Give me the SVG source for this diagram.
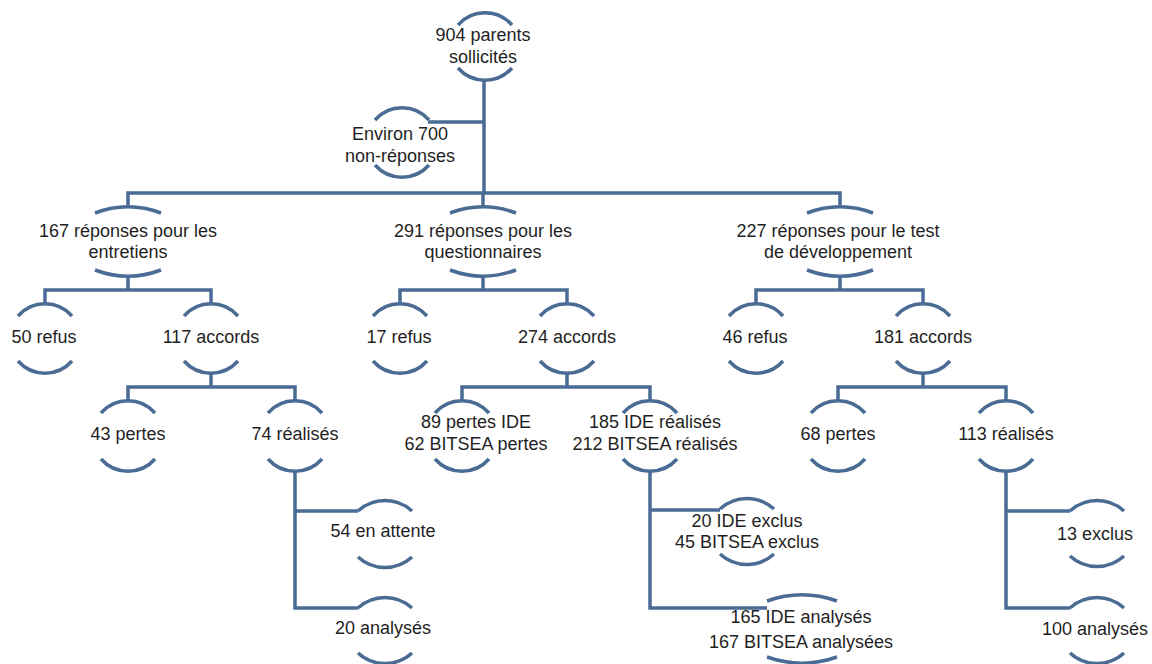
<svg xmlns="http://www.w3.org/2000/svg" width="1152" height="664" viewBox="0 0 1152 664">
<style>
.ln{fill:none;stroke:#4a6b94;stroke-width:3.5;stroke-linecap:butt;stroke-linejoin:miter}
.arc{fill:none;stroke:#4a6b94;stroke-width:3.5}
text{font-family:"Liberation Sans",Arial,sans-serif;font-size:18px;fill:#1f1f1f;text-anchor:middle}
</style>
<rect width="1152" height="664" fill="#ffffff"/>
<g id="connectors" class="ln">
<path d="M484 80 V193"/>
<path d="M428 122 H484"/>
<path d="M128 207 V193 H840 V207"/>
<path d="M483 193 V207"/>
<path d="M128 276 V290"/>
<path d="M45 304 V290 H211 V304"/>
<path d="M483 276 V290"/>
<path d="M400 304 V290 H567 V304"/>
<path d="M840 276 V290"/>
<path d="M756 304 V290 H923 V304"/>
<path d="M211 373 V387"/>
<path d="M128 401 V387 H295 V401"/>
<path d="M567 373 V387"/>
<path d="M462 401 V387 H650 V401"/>
<path d="M923 373 V387"/>
<path d="M838 401 V387 H1006 V401"/>
<path d="M295 471 V608 H358"/>
<path d="M295 511 H358"/>
<path d="M650 471 V608 H767"/>
<path d="M650 510 H720"/>
<path d="M1006 471 V608 H1070"/>
<path d="M1006 511 H1070"/>
</g>
<g id="n-parents">
<path class="arc" d="M458 25 A36 36 0 0 1 512 25"/>
<path class="arc" d="M458 68 A36 36 0 0 0 512 68"/>
<text x="483" y="41">904 parents</text>
<text x="483" y="63">sollicités</text>
</g>
<g id="n-nonrep">
<path class="arc" d="M375 120 A36 36 0 0 1 429 120"/>
<path class="arc" d="M375 165 A36 36 0 0 0 429 165"/>
<text x="400" y="140">Environ 700</text>
<text x="400" y="162">non-réponses</text>
</g>
<g id="n-entretiens">
<path class="arc" d="M95 213 A94 94 0 0 1 161 213"/>
<path class="arc" d="M95 270 A94 94 0 0 0 161 270"/>
<text x="128" y="237">167 réponses pour les</text>
<text x="128" y="258">entretiens</text>
</g>
<g id="n-questionnaires">
<path class="arc" d="M450 213 A94 94 0 0 1 516 213"/>
<path class="arc" d="M450 270 A94 94 0 0 0 516 270"/>
<text x="483" y="237">291 réponses pour les</text>
<text x="483" y="258">questionnaires</text>
</g>
<g id="n-test">
<path class="arc" d="M807 213 A94 94 0 0 1 873 213"/>
<path class="arc" d="M807 270 A94 94 0 0 0 873 270"/>
<text x="838" y="237">227 réponses pour le test</text>
<text x="838" y="258">de développement</text>
</g>
<g id="n-refus1">
<path class="arc" d="M18 316 A36 36 0 0 1 72 316"/>
<path class="arc" d="M18 361 A36 36 0 0 0 72 361"/>
<text x="44" y="343">50 refus</text>
</g>
<g id="n-accords1">
<path class="arc" d="M184 316 A36 36 0 0 1 238 316"/>
<path class="arc" d="M184 361 A36 36 0 0 0 238 361"/>
<text x="211" y="343">117 accords</text>
</g>
<g id="n-refus2">
<path class="arc" d="M373 316 A36 36 0 0 1 427 316"/>
<path class="arc" d="M373 361 A36 36 0 0 0 427 361"/>
<text x="399" y="343">17 refus</text>
</g>
<g id="n-accords2">
<path class="arc" d="M540 316 A36 36 0 0 1 594 316"/>
<path class="arc" d="M540 361 A36 36 0 0 0 594 361"/>
<text x="567" y="343">274 accords</text>
</g>
<g id="n-refus3">
<path class="arc" d="M729 316 A36 36 0 0 1 783 316"/>
<path class="arc" d="M729 361 A36 36 0 0 0 783 361"/>
<text x="755" y="343">46 refus</text>
</g>
<g id="n-accords3">
<path class="arc" d="M896 316 A36 36 0 0 1 950 316"/>
<path class="arc" d="M896 361 A36 36 0 0 0 950 361"/>
<text x="923" y="343">181 accords</text>
</g>
<g id="n-pertes1">
<path class="arc" d="M101 413 A36 36 0 0 1 155 413"/>
<path class="arc" d="M101 459 A36 36 0 0 0 155 459"/>
<text x="128" y="440">43 pertes</text>
</g>
<g id="n-realises1">
<path class="arc" d="M268 413 A36 36 0 0 1 322 413"/>
<path class="arc" d="M268 459 A36 36 0 0 0 322 459"/>
<text x="295" y="440">74 réalisés</text>
</g>
<g id="n-pertes2">
<path class="arc" d="M435 413 A36 36 0 0 1 489 413"/>
<path class="arc" d="M435 459 A36 36 0 0 0 489 459"/>
<text x="476" y="428">89 pertes IDE</text>
<text x="476" y="450">62 BITSEA pertes</text>
</g>
<g id="n-realises2">
<path class="arc" d="M623 413 A36 36 0 0 1 677 413"/>
<path class="arc" d="M623 459 A36 36 0 0 0 677 459"/>
<text x="655" y="428">185 IDE réalisés</text>
<text x="655" y="450">212 BITSEA réalisés</text>
</g>
<g id="n-pertes3">
<path class="arc" d="M811 413 A36 36 0 0 1 865 413"/>
<path class="arc" d="M811 459 A36 36 0 0 0 865 459"/>
<text x="838" y="440">68 pertes</text>
</g>
<g id="n-realises3">
<path class="arc" d="M979 413 A36 36 0 0 1 1033 413"/>
<path class="arc" d="M979 459 A36 36 0 0 0 1033 459"/>
<text x="1006" y="440">113 réalisés</text>
</g>
<g id="n-attente">
<path class="arc" d="M358 511 A40 40 0 0 1 412 511"/>
<path class="arc" d="M358 557 A40 40 0 0 0 412 557"/>
<text x="383" y="537">54 en attente</text>
</g>
<g id="n-analyses1">
<path class="arc" d="M358 608 A40 40 0 0 1 412 608"/>
<path class="arc" d="M358 653 A40 40 0 0 0 412 653"/>
<text x="383" y="634">20 analysés</text>
</g>
<g id="n-exclus2">
<path class="arc" d="M720 509 A40 40 0 0 1 774 509"/>
<path class="arc" d="M720 554 A40 40 0 0 0 774 554"/>
<text x="747" y="527">20 IDE exclus</text>
<text x="747" y="548">45 BITSEA exclus</text>
</g>
<g id="n-analyses2">
<path class="arc" d="M767 601 A105 105 0 0 1 837 601"/>
<path class="arc" d="M767 657 A105 105 0 0 0 837 657"/>
<text x="801" y="623">165 IDE analysés</text>
<text x="801" y="648">167 BITSEA analysées</text>
</g>
<g id="n-exclus3">
<path class="arc" d="M1070 511 A40 40 0 0 1 1124 511"/>
<path class="arc" d="M1070 556 A40 40 0 0 0 1124 556"/>
<text x="1095" y="540">13 exclus</text>
</g>
<g id="n-analyses3">
<path class="arc" d="M1070 608 A40 40 0 0 1 1124 608"/>
<path class="arc" d="M1070 653 A40 40 0 0 0 1124 653"/>
<text x="1095" y="635">100 analysés</text>
</g>
</svg>
